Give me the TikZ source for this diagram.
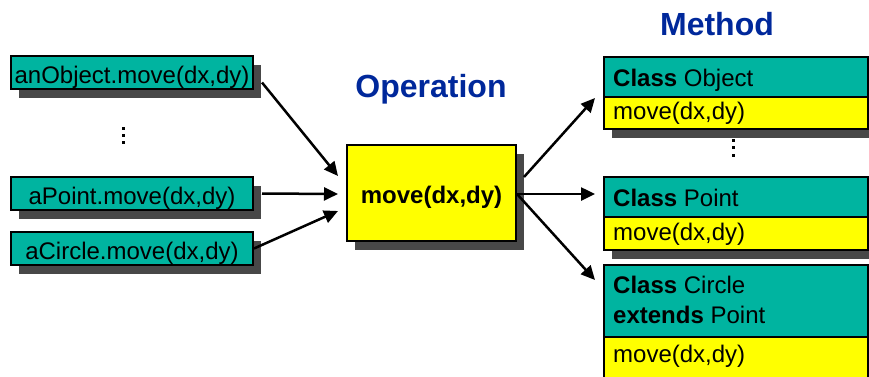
\documentclass[tikz,border=0pt]{standalone}
\usepackage{fontspec}
\setmainfont{Liberation Sans}
\usetikzlibrary{arrows.meta,shadows}
\definecolor{callteal}{RGB}{0,180,160}
\definecolor{methyellow}{RGB}{255,255,0}
\definecolor{shgray}{RGB}{72,72,72}
\definecolor{titleblue}{RGB}{0,40,155}
\begin{document}
\begin{tikzpicture}[x=1pt,y=-1pt,
  every node/.style={font=\fontsize{24}{28}\selectfont},
  shadowed/.style={drop shadow={shadow xshift=8pt,shadow yshift=-9pt,fill=shgray,opacity=1}},
  callbox/.style={draw=black,line width=2pt,fill=callteal,inner xsep=0pt,inner ysep=0pt,
    minimum width=242pt,minimum height=33pt,text height=27pt,text depth=6pt,
    anchor=north west,shadowed},
  opbox/.style={draw=black,line width=2pt,fill=methyellow,inner sep=0pt,
    minimum width=169pt,minimum height=96pt,text height=25pt,text depth=5pt,
    font=\fontsize{24}{28}\selectfont\bfseries,anchor=north west,shadowed},
  classbox/.style={draw=black,line width=2pt,fill=callteal,inner sep=0pt,
    minimum width=264pt,anchor=north west,shadowed},
  methodcell/.style={draw=black,line width=2pt,fill=methyellow,inner sep=0pt,
    minimum width=264pt,anchor=south west},
  cellText/.style={anchor=base west,inner sep=0pt},
  heading/.style={font=\fontsize{32}{36}\selectfont\bfseries,text=titleblue,anchor=base,inner sep=0pt},
  conn/.style={line width=2.5pt,-{Triangle[length=14pt,width=13pt]}}
]
\useasboundingbox (0,0) rectangle (869,376);
\clip (0,0) rectangle (869,376);

% message sends on the left
\node[callbox] (lObj) at (10,55) {anObject.move(dx,dy)};
\node[callbox] (lPt)  at (10,176) {aPoint.move(dx,dy)};
\node[callbox] (lCir) at (10,231) {aCircle.move(dx,dy)};
\foreach \yy in {128,135,142} \fill (121.5,\yy-1.5) rectangle ++(3,3);

% the operation
\node[heading] (opTitle) at (431,97) {Operation};
\node[opbox] (op) at (346,144) {move(dx,dy)};

% the methods
\node[heading] (mTitle) at (717,35) {Method};

\node[classbox,minimum height=72pt] (cObj) at (603,56) {};
\node[methodcell,minimum height=32pt] (cObjM) at (cObj.south west) {};
\node[cellText] (cObjT) at (613,86) {\textbf{Class} Object};
\node[cellText] (cObjMT) at (613,119) {move(dx,dy)};

\foreach \yy in {140,147.5,155} \fill (731.5,\yy-1.5) rectangle ++(3,3);

\node[classbox,minimum height=73pt] (cPt) at (603,176) {};
\node[methodcell,minimum height=33pt] (cPtM) at (cPt.south west) {};
\node[cellText] (cPtT) at (613,206) {\textbf{Class} Point};
\node[cellText] (cPtMT) at (613,240) {move(dx,dy)};

\node[classbox,minimum height=116pt] (cCir) at (603,264) {};
\node[methodcell,minimum height=44pt] (cCirM) at (cCir.south west) {};
\node[cellText] (cCirT) at (613,293) {\textbf{Class} Circle};
\node[cellText] (cCirE) at (613,323) {\textbf{extends} Point};
\node[cellText] (cCirMT) at (613,362) {move(dx,dy)};

% dispatch arrows
\draw[conn] ([xshift=8pt,yshift=-10pt]lObj.east) -- ([xshift=-8pt,yshift=17pt]op.west);
\draw[conn] ([xshift=8pt]lPt.east) -- ([xshift=-8pt,yshift=-1pt]op.west);
\draw[conn] (lCir.east) -- ([xshift=-8pt,yshift=-18pt]op.west);

\draw[conn] ([xshift=7pt,yshift=16pt]op.east) -- ([xshift=-8pt,yshift=-5pt]cObj.west);
\draw[conn] ([xshift=0pt,yshift=-1pt]op.east) -- ([xshift=-8pt,yshift=19.5pt]cPt.west);
\draw[conn] ([xshift=0pt,yshift=-1pt]op.east) -- ([xshift=-8pt,yshift=-16pt]cCir.north west);
\end{tikzpicture}
\end{document}
